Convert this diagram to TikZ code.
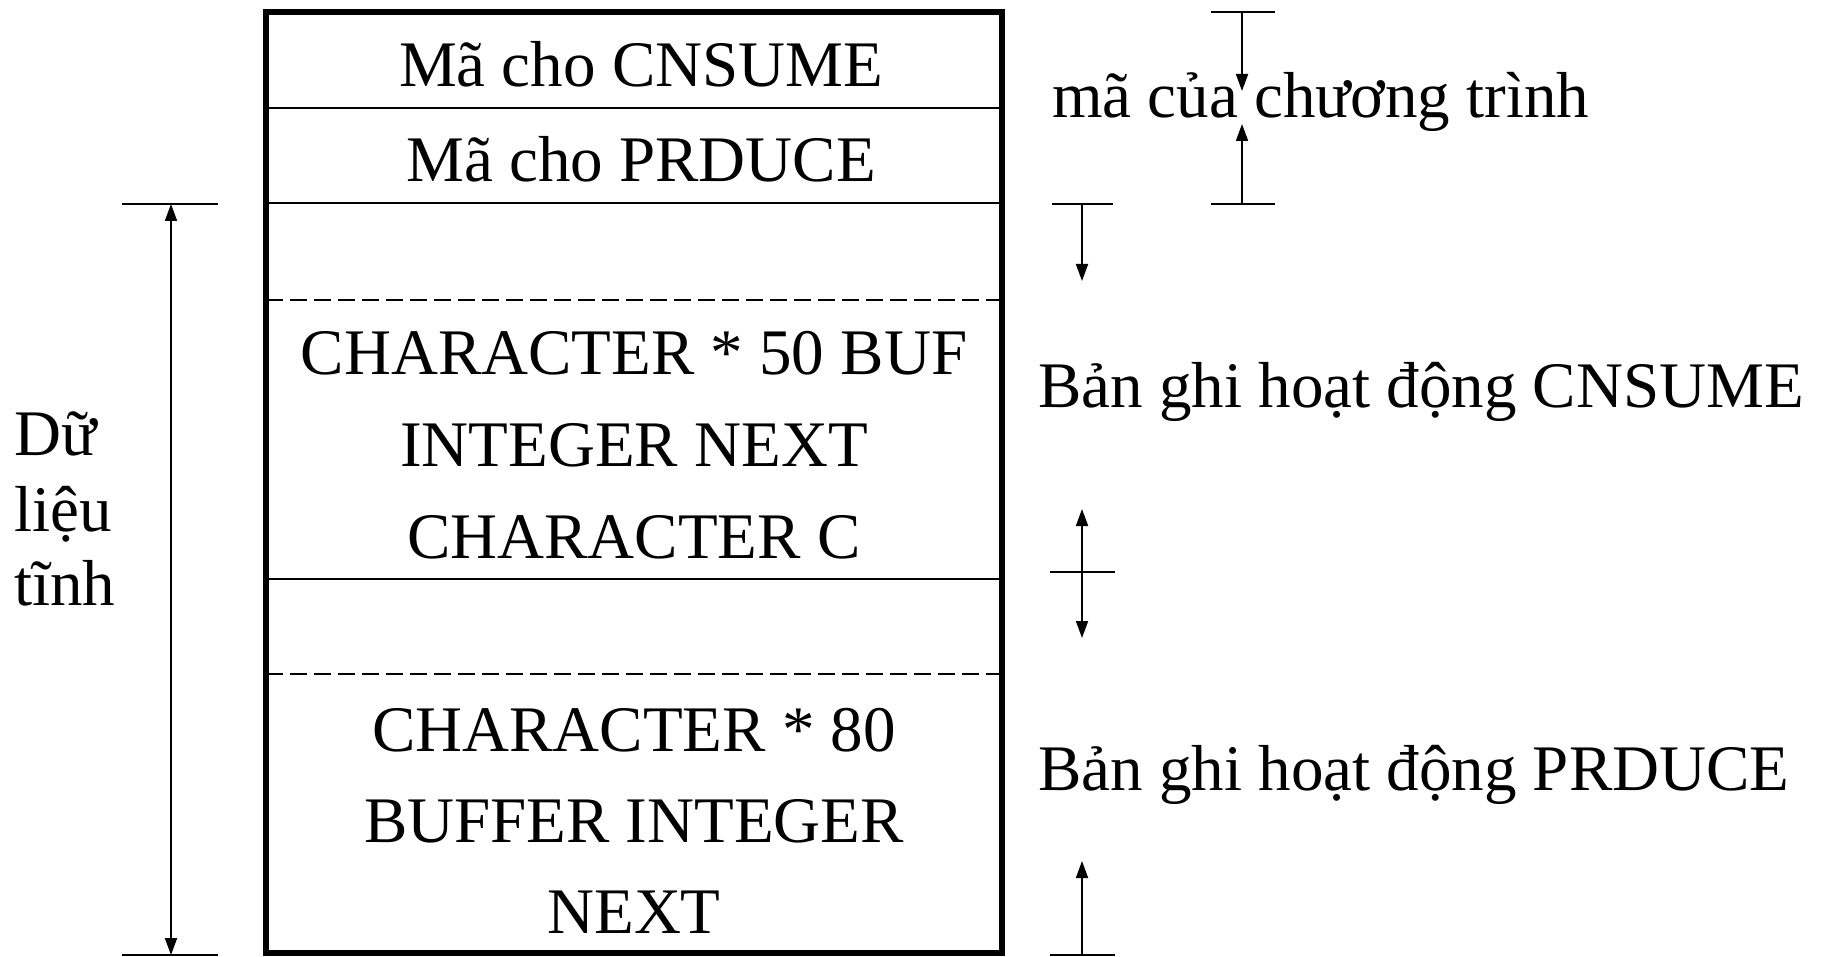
\documentclass[tikz,border=0pt]{standalone}
\usepackage{fontspec}
\setmainfont{Liberation Serif}
\usetikzlibrary{arrows.meta}
\begin{document}
\begin{tikzpicture}[x=1pt,y=-1pt,
  lbl/.style={anchor=base,inner sep=0pt,font=\fontsize{65}{72}\selectfont},
  side/.style={lbl,anchor=base west},
  thinline/.style={line width=1.8pt},
  sep/.style={line width=2.4pt},
  dashsep/.style={line width=2.6pt,dash pattern=on 17pt off 7pt},
  arr/.style={thinline,-{Triangle[length=17pt,width=12pt]}},
  dimarr/.style={thinline,{Triangle[length=17pt,width=12pt]}-{Triangle[length=17pt,width=12pt]}}]
\useasboundingbox (0,0) rectangle (1822,957);

% memory layout column
\draw[line width=5.2pt] (266,12) rectangle (1002,953);
\draw[sep] (266,108) -- (1002,108);
\draw[sep] (266,203) -- (1002,203);
\draw[dashsep] (266,300) -- (1002,300);
\draw[sep] (266,579) -- (1002,579);
\draw[dashsep] (266,674) -- (1002,674);

\node[lbl] (codeC) at (641,87) {Mã cho CNSUME};
\node[lbl] (codeP) at (641,182) {Mã cho PRDUCE};
\node[lbl] (c1) at (634,374) {CHARACTER * 50 BUF};
\node[lbl] (c2) at (634,466) {INTEGER NEXT};
\node[lbl] (c3) at (634,558) {CHARACTER C};
\node[lbl] (p1) at (634,751) {CHARACTER * 80};
\node[lbl] (p2) at (634,842) {BUFFER INTEGER};
\node[lbl] (p3) at (634,933) {NEXT};

% left dimension: static data
\node[lbl,anchor=base west] (d1) at (14,455) {Dữ};
\node[lbl,anchor=base west] (d2) at (14,531) {liệu};
\node[lbl,anchor=base west] (d3) at (14,605) {tĩnh};
\coordinate (sdT) at (171,204);
\coordinate (sdB) at (171,955);
\draw[thinline] (122,204) -- (218,204);
\draw[thinline] (122,955) -- (218,955);
\draw[dimarr] (sdT) -- (sdB);

% right: program code
\node[side] (code) at (1052,118) {mã của chương trình};
\coordinate (pcT) at (1242,12);
\coordinate (pcB) at (1242,204);
\coordinate (pcT2) at (1242,91);
\coordinate (pcB2) at (1242,124);
\draw[thinline] (1211,12) -- (1275,12);
\draw[thinline] (1211,204) -- (1275,204);
\draw[arr] (pcT) -- (pcT2);
\draw[arr] (pcB) -- (pcB2);

% right: activation records
\node[side] (recC) at (1038,407) {Bản ghi hoạt động CNSUME};
\node[side] (recP) at (1038,790) {Bản ghi hoạt động PRDUCE};
\coordinate (rA) at (1082,204);
\coordinate (rA2) at (1082,281);
\coordinate (rM) at (1082,572);
\coordinate (rM1) at (1082,509);
\coordinate (rM2) at (1082,638);
\coordinate (rB) at (1082,955);
\coordinate (rB2) at (1082,861);
\draw[thinline] (1052,204) -- (1113,204);
\draw[thinline] (1050,572) -- (1115,572);
\draw[thinline] (1050,955) -- (1115,955);
\draw[arr] (rA) -- (rA2);
\draw[arr] (rM) -- (rM1);
\draw[arr] (rM) -- (rM2);
\draw[arr] (rB) -- (rB2);
\end{tikzpicture}
\end{document}
